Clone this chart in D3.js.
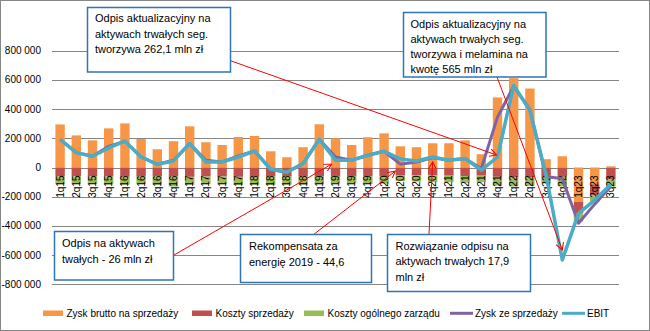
<!DOCTYPE html>
<html><head><meta charset="utf-8">
<script src="https://cdn.jsdelivr.net/npm/d3@7"></script>
<style>
html,body{margin:0;padding:0;background:#fff;}
svg{display:block;font-family:"Liberation Sans",Arial,sans-serif;}
</style></head>
<body>
<svg id="chart" width="650" height="331"></svg>
<script>
const quarters = ["1q15","2q15","3q15","4q15","1q16","2q16","3q16","4q16","1q17","2q17","3q17","4q17",
  "1q18","2q18","3q18","4q18","1q19","2q19","3q19","4q19","1q20","2q20","3q20","4q20",
  "1q21","2q21","3q21","4q21","1q22","2q22","3q22","4q22","1q23","2q23","3q23"];
const grossProfit = [295000,220000,186000,268000,302000,195000,125000,180000,282000,173000,154000,209000,
  216000,111000,70000,139000,296000,200000,154000,207000,234000,145000,139000,166000,
  166000,186000,91000,480000,612000,541000,57000,77000,-235000,-115000,8000];
const sellingCosts = [-62000,-60000,-62000,-62000,-64000,-62000,-60000,-62000,-64000,-62000,-62000,-64000,
  -64000,-62000,-62000,-62000,-62000,-58000,-58000,-60000,-58000,-52000,-54000,-54000,
  -56000,-58000,-56000,-64000,-68000,-66000,-64000,-64000,-79000,-75000,-80000];
const adminCosts = [-52000,-52000,-50000,-54000,-54000,-50000,-58000,-68000,-54000,-52000,-52000,-56000,
  -54000,-58000,-55000,-55000,-52000,-50000,-50000,-52000,-52000,-40000,-42000,-46000,
  -44000,-46000,-44000,-60000,-62000,-60000,-45000,-66000,-57000,-45000,-50000];
const salesProfit = [193000,102000,77000,145000,180000,72000,22000,50000,164000,50000,38000,79000,
  113000,-12000,-32000,27000,193000,72000,50000,84000,111000,23000,38000,66000,
  50000,61000,-7000,345000,557000,396000,-64000,-75000,-382000,-251000,-128000];
const ebit = [193000,102000,77000,134000,180000,72000,22000,45000,164000,38000,38000,72000,
  113000,-12000,-32000,27000,193000,50000,50000,84000,111000,59000,45000,72000,
  50000,61000,-18000,72000,562000,391000,-53000,-633000,-314000,-223000,-114000];
const yTicks = [-800000,-600000,-400000,-200000,0,200000,400000,600000,800000];
const seriesNames = ["Zysk brutto na sprzedaży","Koszty sprzedaży","Koszty ogólnego zarządu","Zysk ze sprzedaży","EBIT"];
const colors = ["#F79646","#C0504D","#9BBB59","#8064A2","#4BACC6"];

const svg = d3.select("#chart");
const x = d3.scaleBand().domain(quarters).range([52,619]).paddingInner(0.42).paddingOuter(0.21);
const y = d3.scaleLinear().domain([-800000,800000]).range([284.3,50.7]);
const xc = q => x(q) + x.bandwidth()/2;

// outer border
svg.append("rect").attr("x",0.5).attr("y",0.5).attr("width",649).attr("height",330)
  .attr("fill","#fff").attr("stroke","#868686");

// grid
svg.append("g").selectAll("line").data(yTicks).join("line")
  .attr("x1",52).attr("x2",619).attr("y1",d=>Math.round(y(d))+0.5).attr("y2",d=>Math.round(y(d))+0.5)
  .attr("stroke","#868686").attr("stroke-width",1);

// y axis labels
const fmt = v => (v<0?"-":"") + d3.format(",")(Math.abs(v)).replace(/,/g," ");
svg.append("g").selectAll("text").data(yTicks).join("text")
  .attr("x",41).attr("y",d=>y(d)).attr("dy","0.35em").attr("text-anchor","end")
  .attr("font-size",10).attr("fill","#000").text(fmt);

// stacked bars
const table = quarters.map((q,i)=>({q, g:grossProfit[i], s:sellingCosts[i], a:adminCosts[i]}));
const stack = d3.stack().keys(["g","s","a"]).offset(d3.stackOffsetDiverging)(table);
svg.append("g").selectAll("g").data(stack).join("g").attr("fill",(d,i)=>colors[i])
  .selectAll("rect").data(d=>d).join("rect")
  .attr("x",d=>x(d.data.q)).attr("width",x.bandwidth())
  .attr("y",d=>y(Math.max(d[0],d[1]))).attr("height",d=>Math.abs(y(d[0])-y(d[1])));

// category labels
svg.append("g").selectAll("text").data(quarters).join("text")
  .attr("transform",q=>`translate(${xc(q)},${y(0)+8}) rotate(-90)`)
  .attr("dy","0.35em").attr("text-anchor","end").attr("font-size",10).attr("fill","#000").text(q=>q);

// lines
const line = d3.line().x((d,i)=>xc(quarters[i])).y(d=>y(d));
svg.append("path").datum(salesProfit).attr("d",line).attr("fill","none")
  .attr("stroke",colors[3]).attr("stroke-width",3).attr("stroke-linejoin","round");
svg.append("path").datum(ebit).attr("d",line).attr("fill","none")
  .attr("stroke",colors[4]).attr("stroke-width",3.5).attr("stroke-linejoin","round");

// annotations
svg.append("defs").append("marker").attr("id","arr").attr("viewBox","0 0 10 10")
  .attr("refX",9).attr("refY",5).attr("markerWidth",8).attr("markerHeight",8)
  .attr("markerUnits","userSpaceOnUse").attr("orient","auto")
  .append("path").attr("d","M0,0 L9,5 L0,10").attr("fill","none").attr("stroke","#FF0000").attr("stroke-width",1.3);

const annotations = [
  {box:[87.5,7.5,143,64.5], lines:["Odpis aktualizacyjny na","aktywach trwałych seg.","tworzywa 262,1 mln zł"], tx:95, ty:22, ls:15.7,
   from:[220,57], q:"4q21", v:ebit[27], off:[-1,-2]},
  {box:[403.5,12.5,142.5,64.5], lines:["Odpis aktualizacyjny na","aktywach trwałych seg.","tworzywa i melamina na","kwotę 565 mln zł"], tx:410.5, ty:27.5, ls:15,
   from:[497,77], q:"4q22", v:ebit[31], off:[0,-10]},
  {box:[54.5,231.5,119,48.5], lines:["Odpis na aktywach","twałych - 26 mln zł"], tx:62, ty:247, ls:15.5,
   from:[174,255], q:"2q19", v:ebit[17], off:[-4,4]},
  {box:[240.5,234.5,131,48], lines:["Rekompensata za","energię 2019 - 44,6"], tx:249, ty:249.5, ls:16,
   from:[313,235], q:"2q20", v:salesProfit[21], off:[-5,7]},
  {box:[387.5,234.5,143,57], lines:["Rozwiązanie odpisu na","aktywach trwałych 17,9","mln zł"], tx:395.5, ty:249.5, ls:15.7,
   from:[429,234], q:"4q20", v:salesProfit[23], off:[0,4]}
];
const ag = svg.append("g");
annotations.forEach(a=>{
  ag.append("line").attr("x1",a.from[0]).attr("y1",a.from[1])
    .attr("x2",xc(a.q)+a.off[0]).attr("y2",y(a.v)+a.off[1])
    .attr("stroke","#FF0000").attr("stroke-width",1).attr("marker-end","url(#arr)");
});
annotations.forEach(a=>{
  ag.append("rect").attr("x",a.box[0]).attr("y",a.box[1]).attr("width",a.box[2]).attr("height",a.box[3])
    .attr("fill","#fff").attr("stroke","#2E75B6").attr("stroke-width",1.5);
  const t = ag.append("text").attr("font-size",11).attr("fill","#000");
  a.lines.forEach((l,i)=>t.append("tspan").attr("x",a.tx).attr("y",a.ty+i*a.ls).text(l));
});

// legend
const legX = [43,192,304,450,562];
const lg = svg.append("g");
seriesNames.forEach((n,i)=>{
  if(i<3){
    lg.append("rect").attr("x",legX[i]).attr("y",310.5).attr("width",20).attr("height",5.5).attr("fill",colors[i]);
  } else {
    lg.append("line").attr("x1",legX[i]).attr("x2",legX[i]+23).attr("y1",313.3).attr("y2",313.3)
      .attr("stroke",colors[i]).attr("stroke-width",3);
  }
  lg.append("text").attr("x",legX[i]+(i<3?23.5:25)).attr("y",313.3).attr("dy","0.35em")
    .attr("font-size",10).attr("fill","#000").text(n);
});
</script>
</body></html>
